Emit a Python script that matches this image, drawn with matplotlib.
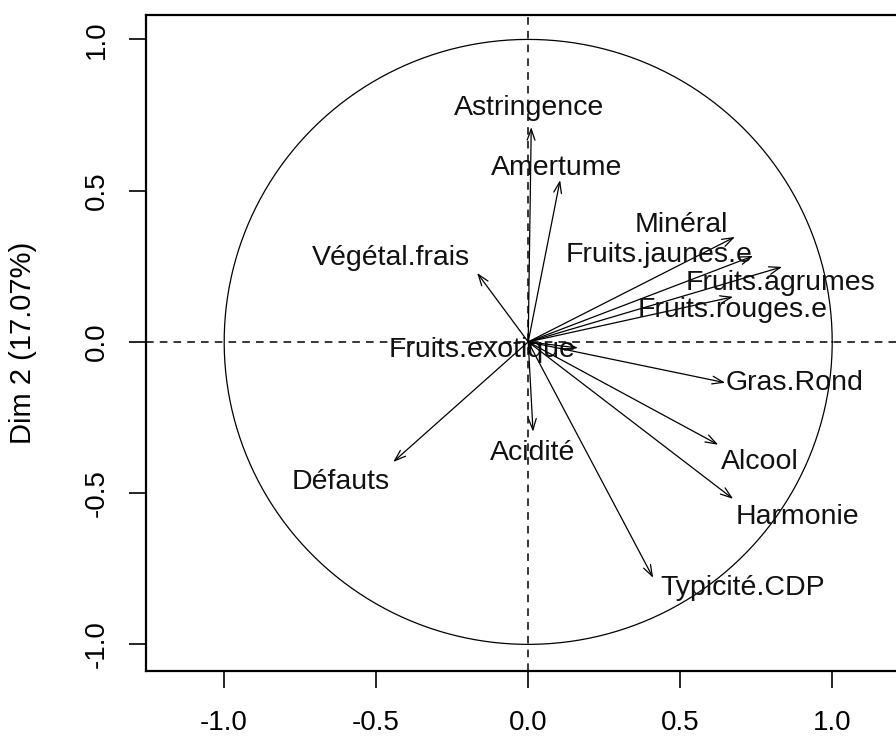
import matplotlib
matplotlib.use('Agg')
import matplotlib.pyplot as plt
import numpy as np

plt.rcParams['font.family'] = ['Liberation Sans', 'DejaVu Sans']

# variable coordinates on Dim 1 / Dim 2 (arrow tips)
variables = ['Astringence', 'Amertume', 'Minéral', 'Fruits.jaunes.e', 'Fruits.agrumes',
             'Fruits.rouges.e', 'Végétal.frais', 'Fruits.exotique', 'Acidité', 'Défauts',
             'Gras.Rond', 'Alcool', 'Harmonie', 'Typicité.CDP']
dim1 = [0.01, 0.105, 0.68, 0.74, 0.835, 0.674, -0.168, 0.164, 0.016, -0.444,
        0.648, 0.625, 0.674, 0.411]
dim2 = [0.71, 0.535, 0.347, 0.284, 0.248, 0.149, 0.228, -0.02, -0.297, -0.397,
        -0.135, -0.34, -0.519, -0.78]

# where each label ended up (data units)
label_x = [0.003, 0.092, 0.503, 0.431, 0.829, 0.671, -0.451, -0.151, 0.013, -0.618,
           0.875, 0.763, 0.885, 0.704]
label_y = [0.774, 0.575, 0.387, 0.288, 0.195, 0.106, 0.278, -0.026, -0.367, -0.463,
           -0.135, -0.397, -0.578, -0.813]

ticks = [-1.0, -0.5, 0.0, 0.5, 1.0]
ylabel = 'Dim 2 (17.07%)'

fig = plt.figure(figsize=(8.96, 7.38), dpi=100)
ax = fig.add_axes([0.163, 0.0908, 0.853, 0.889])
ax.set_xlim(-1.257, 1.257)
ax.set_ylim(-1.088, 1.081)

# correlation circle and the two axes
t = np.linspace(0, 2 * np.pi, 400)
ax.plot(np.cos(t), np.sin(t), color='black', lw=0.9)
ax.axhline(0, color='black', lw=1.1, ls=(0, (5, 4)))
ax.axvline(0, color='black', lw=1.1, ls=(0, (5, 4)))

for name, x, y, lx, ly in zip(variables, dim1, dim2, label_x, label_y):
    ax.annotate('', xy=(x, y), xytext=(0, 0),
                arrowprops=dict(arrowstyle='->,head_length=0.8,head_width=0.28',
                                color='black', lw=0.9, shrinkA=0, shrinkB=0))
    ax.text(lx, ly, name, ha='center', va='center', fontsize=20.5, color='#111111')

ax.set_xticks(ticks)
ax.set_yticks(ticks)
ax.set_xticklabels(['%.1f' % v for v in ticks])
ax.set_yticklabels(['%.1f' % v for v in ticks], rotation=90, va='center')
ax.tick_params(direction='out', length=12, width=1.2, labelsize=20, pad=14)
ax.tick_params(axis='x', pad=16)
for s in ax.spines.values():
    s.set_linewidth(1.6)
ax.set_ylabel(ylabel, fontsize=21)
ax.yaxis.set_label_coords(-0.143, 0.5)

fig.savefig('out.png', dpi=100)
